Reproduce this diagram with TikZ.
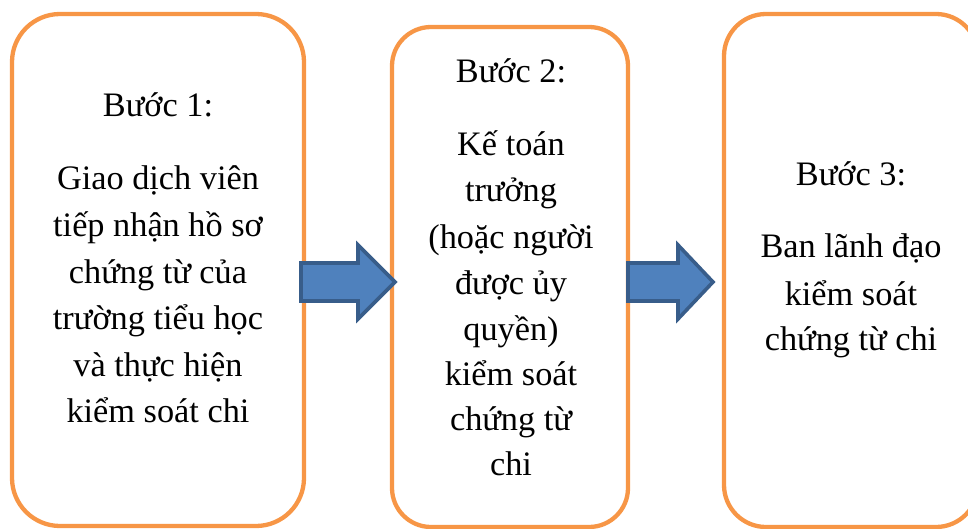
\documentclass[tikz,border=0pt]{standalone}
\usepackage{fontspec}
\setmainfont{Liberation Serif}
\definecolor{boxorange}{HTML}{F79646}
\definecolor{arrowfill}{HTML}{4F81BD}
\definecolor{arrowline}{HTML}{385D8A}
\begin{document}
\begin{tikzpicture}[x=1pt,y=-1pt,
  stepbox/.style={draw=boxorange, line width=4.3pt, fill=white, rectangle, inner sep=0pt},
  blockarrow/.style={draw=arrowline, fill=arrowfill, line width=3.6pt, line join=miter},
  txt/.style={anchor=base, inner sep=0pt, font=\fontsize{34.3}{46.5}\selectfont}]
\useasboundingbox (0,0) rectangle (968,529);
% boxes
\node[stepbox, rounded corners=48pt, minimum width=292pt, minimum height=512pt] (b1) at (158,270) {};
\node[stepbox, rounded corners=39pt, minimum width=236pt, minimum height=500pt] (b2) at (510,277) {};
\node[stepbox, rounded corners=42pt, minimum width=254pt, minimum height=513pt] (b3) at (851,270.5) {};
% arrows
\draw[blockarrow] (301,263) -- (358,263) -- (358,245) -- (395,282) -- (358,319) -- (358,301) -- (301,301) -- cycle;
\draw[blockarrow] (628,263) -- (678,263) -- (678,245) -- (713,282) -- (678,319) -- (678,301) -- (628,301) -- cycle;
% box 1 text
\node[txt] (t1a) at (158,117) {Bước 1:};
\node[txt] (t1b) at (158,190) {Giao dịch viên};
\node[txt] (t1c) at (158,236.5) {tiếp nhận hồ sơ};
\node[txt] (t1d) at (158,283) {chứng từ của};
\node[txt] (t1e) at (158,329.5) {trường tiểu học};
\node[txt] (t1f) at (158,376) {và thực hiện};
\node[txt] (t1g) at (158,422) {kiểm soát chi};
% box 2 text
\node[txt] (t2a) at (511,83) {Bước 2:};
\node[txt] (t2b) at (511,156) {Kế toán};
\node[txt] (t2c) at (511,202) {trưởng};
\node[txt] (t2d) at (511,248) {(hoặc người};
\node[txt] (t2e) at (511,294) {được ủy};
\node[txt] (t2f) at (511,340) {quyền)};
\node[txt] (t2g) at (511,385) {kiểm soát};
\node[txt] (t2h) at (511,430) {chứng từ};
\node[txt] (t2i) at (511,475) {chi};
% box 3 text
\node[txt] (t3a) at (851,186) {Bước 3:};
\node[txt] (t3b) at (851,258) {Ban lãnh đạo};
\node[txt] (t3c) at (851,305) {kiểm soát};
\node[txt] (t3d) at (851,350) {chứng từ chi};
\end{tikzpicture}
\end{document}
